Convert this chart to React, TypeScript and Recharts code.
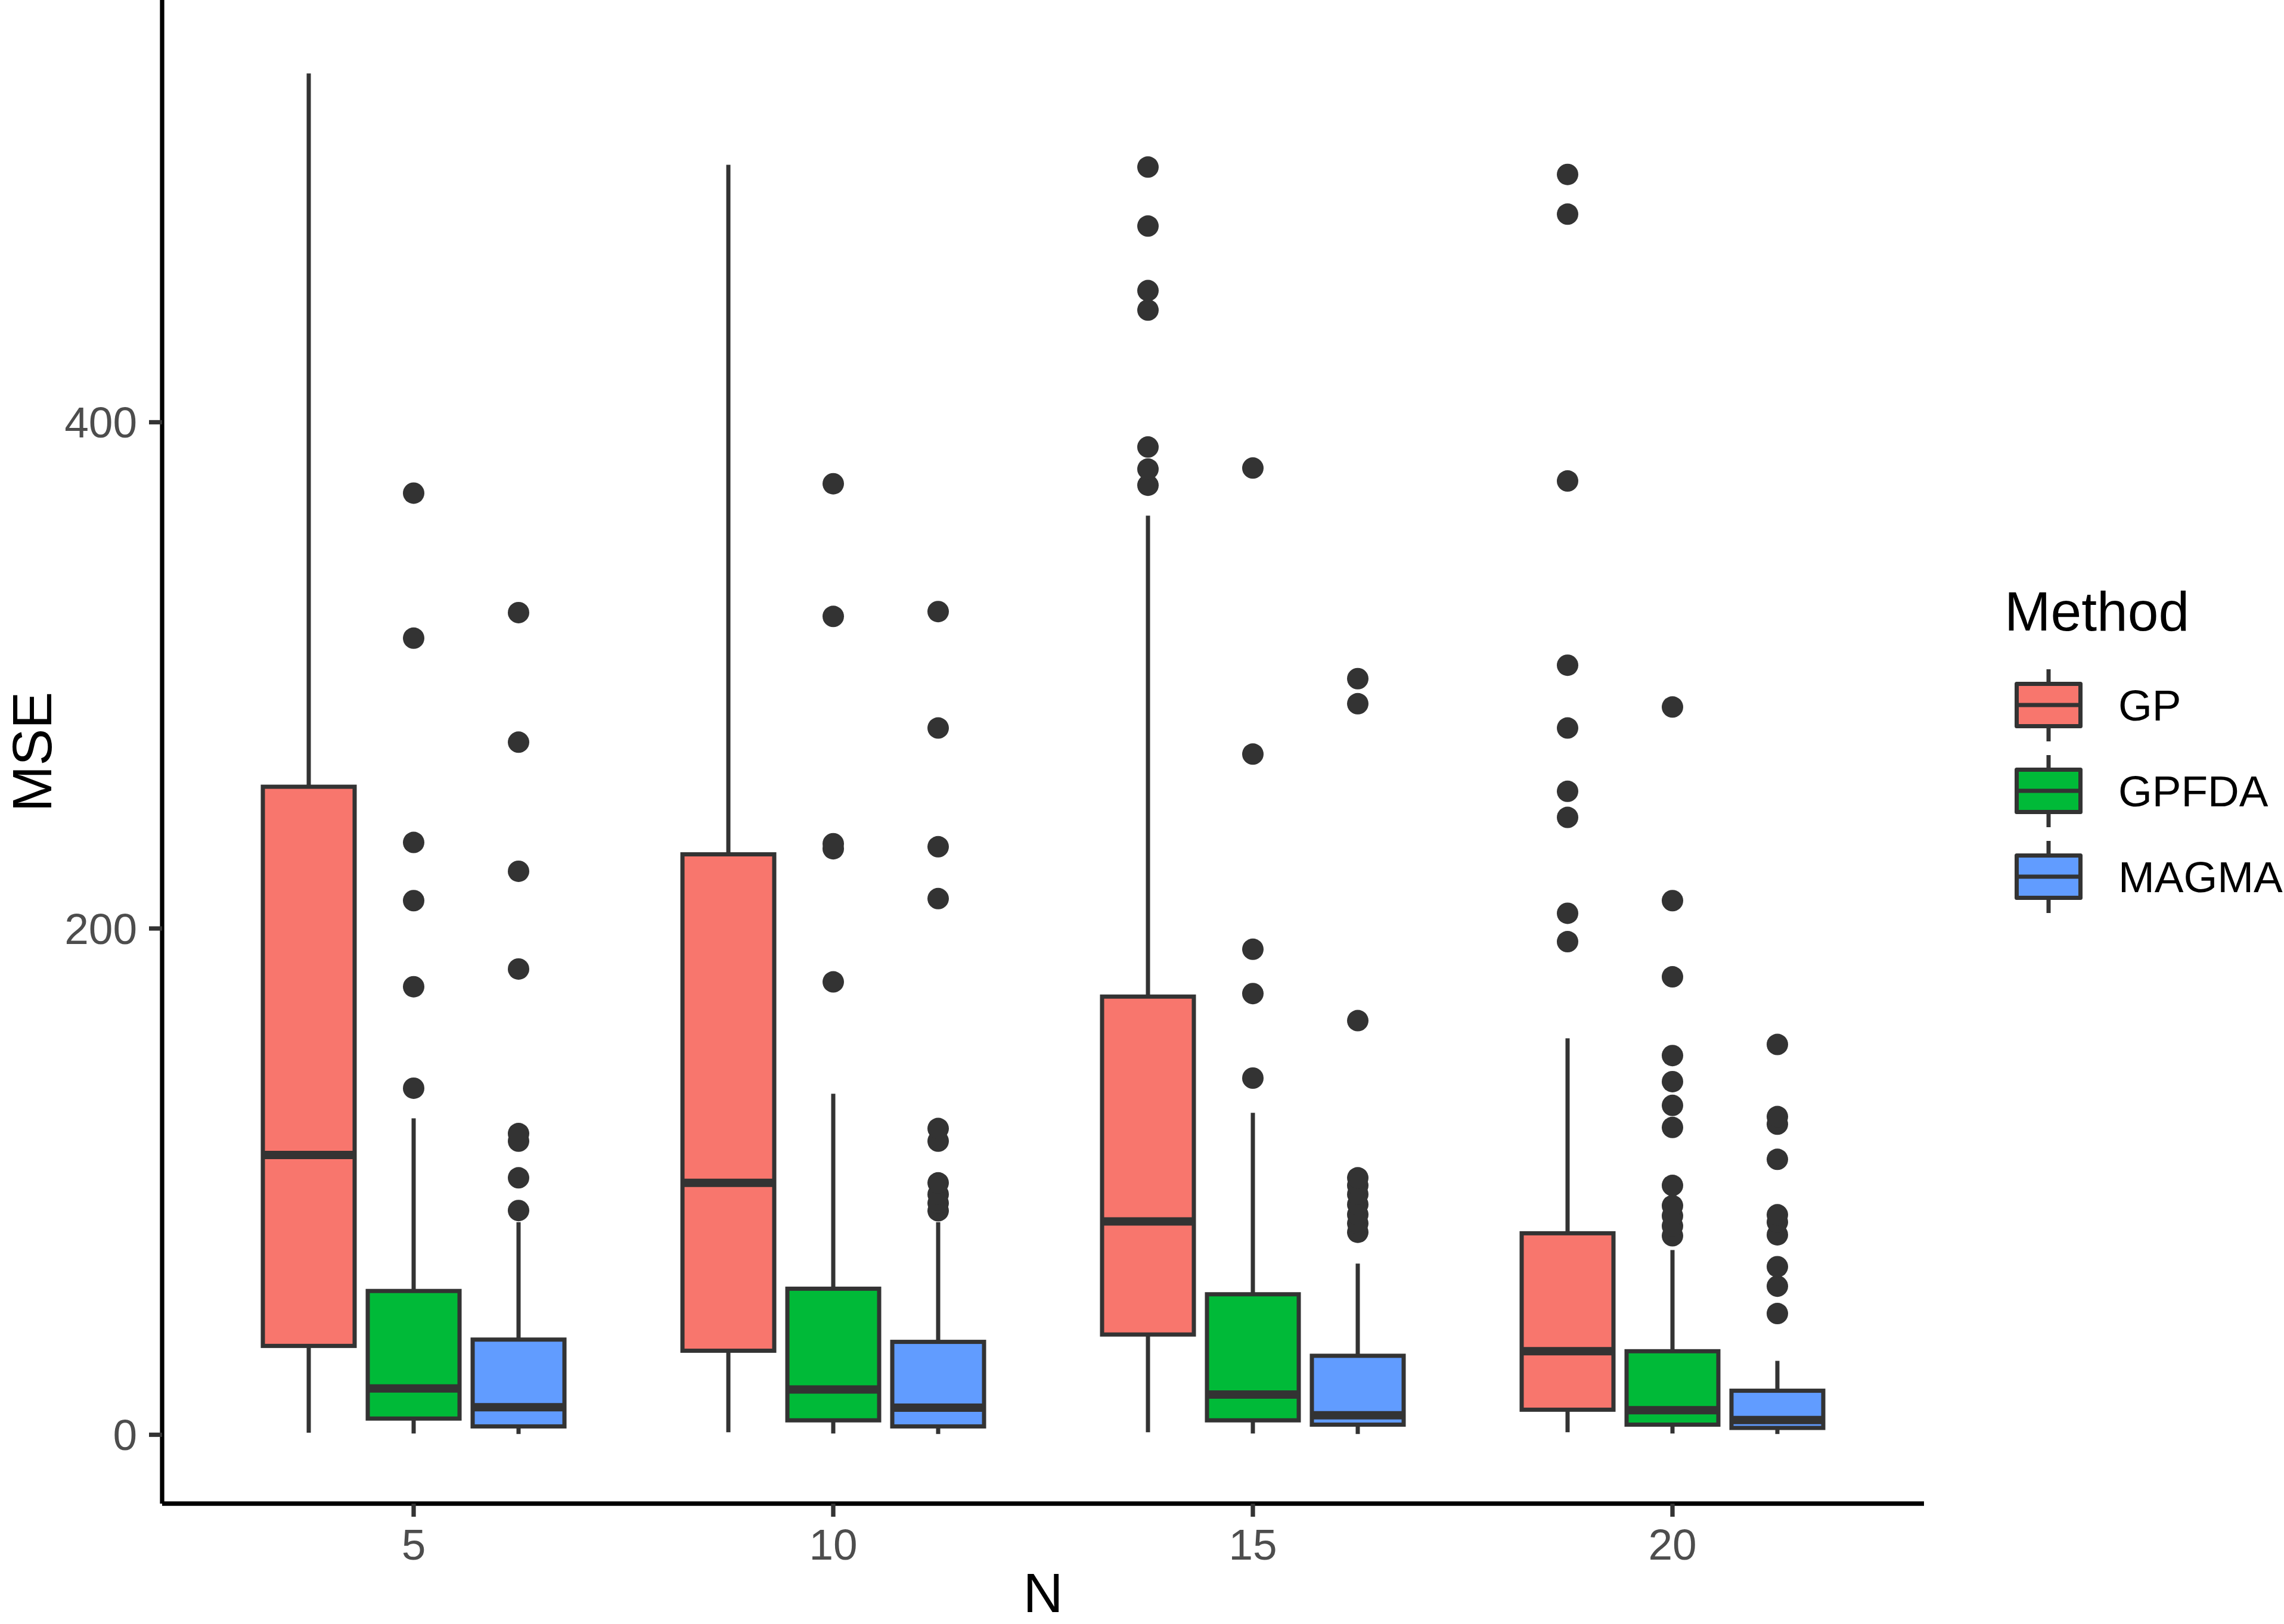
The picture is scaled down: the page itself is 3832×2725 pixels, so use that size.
import React from 'react';
import { ComposedChart, Bar, XAxis, YAxis, Legend } from 'recharts';

// ---------- data ----------
const N_LABELS = ['5', '10', '15', '20'];
const METHOD_NAMES = ['GP', 'GPFDA', 'MAGMA'];
const METHOD_COLORS = ['#F8766D', '#00BA38', '#619CFF'];
const Y_TICKS = [0, 200, 400];

const GP_LOW = [0.8, 1, 1, 1];
const GP_Q1 = [35.1, 33.2, 39.6, 9.9];
const GP_MED = [110.5, 99.5, 84.3, 33];
const GP_Q3 = [256, 229.3, 173.1, 79.6];
const GP_HIGH = [537.8, 501.7, 363.1, 156.6];
const GP_OUT = [
  [],
  [],
  [375.1, 381.5, 390.2, 444.3, 452, 477.5, 500.8],
  [194.8, 206, 243.9, 254.2, 279.2, 304, 376.8, 482.2, 497.9],
];

const GPFDA_LOW = [0.5, 0.5, 0.5, 0.5];
const GPFDA_Q1 = [6.4, 5.7, 5.7, 4];
const GPFDA_MED = [18.3, 17.9, 15.9, 9.7];
const GPFDA_Q3 = [56.8, 57.7, 55.5, 33];
const GPFDA_HIGH = [125, 134.7, 127.2, 73];
const GPFDA_OUT = [
  [136.9, 177, 211, 234, 314.7, 372],
  [178.9, 231.5, 233.5, 323.3, 375.7],
  [140.9, 174.3, 191.8, 268.9, 381.9],
  [78.6, 82.5, 86.5, 90.5, 98.5, 121.4, 130.1, 139.5, 149.8, 180.9, 211, 287.5],
];

const MAGMA_LOW = [0.3, 0.3, 0.3, 0.3];
const MAGMA_Q1 = [3.3, 3.3, 4, 2.7];
const MAGMA_MED = [10.9, 10.7, 7.7, 5.8];
const MAGMA_Q3 = [37.6, 36.7, 31.2, 17.4];
const MAGMA_HIGH = [84, 84, 67.6, 29.2];
const MAGMA_OUT = [
  [88.6, 101.5, 116, 119, 184, 222.6, 273.6, 324.8],
  [88.5, 91.5, 95, 99.5, 116, 121, 211.8, 232.3, 279.2, 325.2],
  [80, 83.5, 87, 91, 95, 98.5, 101.5, 163.6, 288.8, 298.7],
  [47.9, 58.7, 66.4, 79, 84, 86.9, 108.8, 122.7, 125.7, 154.2],
];

type Stats = { low: number; q1: number; med: number; q3: number; high: number; out: number[] };

const stats = (
  low: number[], q1: number[], med: number[], q3: number[], high: number[], out: number[][], i: number,
): Stats => ({ low: low[i], q1: q1[i], med: med[i], q3: q3[i], high: high[i], out: out[i] });

const data = N_LABELS.map((n, i) => ({
  n,
  GP: stats(GP_LOW, GP_Q1, GP_MED, GP_Q3, GP_HIGH, GP_OUT, i),
  GPFDA: stats(GPFDA_LOW, GPFDA_Q1, GPFDA_MED, GPFDA_Q3, GPFDA_HIGH, GPFDA_OUT, i),
  MAGMA: stats(MAGMA_LOW, MAGMA_Q1, MAGMA_MED, MAGMA_Q3, MAGMA_HIGH, MAGMA_OUT, i),
}));

// ---------- style ----------
const FONT = "'Liberation Sans', Arial, Helvetica, sans-serif";
const DARK = '#333333';
const LINE_W = 7;

const makeBoxShape = (key: string, fill: string) => (props: any) => {
  const { x, y, width, height, payload } = props;
  const s: Stats = payload[key];
  const top = Math.min(y, y + height);
  const bot = Math.max(y, y + height);
  const per = (bot - top) / (s.high - s.low);
  const toY = (v: number) => top + (s.high - v) * per;
  const cx = x + width / 2;
  return (
    <g>
      <line x1={cx} x2={cx} y1={toY(s.high)} y2={toY(s.q3)} stroke={DARK} strokeWidth={LINE_W} />
      <line x1={cx} x2={cx} y1={toY(s.q1)} y2={toY(s.low)} stroke={DARK} strokeWidth={LINE_W} />
      <rect
        x={x}
        y={toY(s.q3)}
        width={width}
        height={toY(s.q1) - toY(s.q3)}
        fill={fill}
        stroke={DARK}
        strokeWidth={LINE_W}
      />
      <line x1={x} x2={x + width} y1={toY(s.med)} y2={toY(s.med)} stroke={DARK} strokeWidth={LINE_W * 2} />
      {s.out.map((v, j) => (
        <circle key={j} cx={cx} cy={toY(v)} r={18} fill={DARK} />
      ))}
    </g>
  );
};

const XTitle = (props: any) => {
  const vb = props.viewBox || {};
  return (
    <text
      x={vb.x + vb.width / 2}
      y={vb.y + vb.height - 20}
      textAnchor="middle"
      fontSize={93}
      fontFamily={FONT}
      fill="#000"
    >
      {props.text}
    </text>
  );
};

const YTitle = (props: any) => {
  const vb = props.viewBox || {};
  const cx = vb.x + 86;
  const cy = vb.y + vb.height / 2;
  return (
    <text
      x={cx}
      y={cy}
      transform={`rotate(-90, ${cx}, ${cy})`}
      textAnchor="middle"
      fontSize={93}
      fontFamily={FONT}
      fill="#000"
    >
      {props.text}
    </text>
  );
};

const renderLegend = (props: any) => {
  const payload = props && props.payload && props.payload.length ? props.payload : null;
  const items = payload
    ? payload.map((p: any) => ({ name: p.value, color: p.color }))
    : METHOD_NAMES.map((name, i) => ({ name, color: METHOD_COLORS[i] }));
  return (
    <svg width={470} height={580} style={{ display: 'block', overflow: 'visible' }}>
      <text x={3} y={98} fontSize={93} fontFamily={FONT} fill="#000">
        Method
      </text>
      {items.map((it: any, i: number) => {
        const cy = 223 + i * 144;
        return (
          <g key={it.name}>
            <line x1={77} x2={77} y1={cy - 60} y2={cy + 61} stroke={DARK} strokeWidth={LINE_W} />
            <rect
              x={23.5}
              y={cy - 35.5}
              width={107}
              height={71}
              fill={it.color}
              stroke={DARK}
              strokeWidth={LINE_W}
              strokeLinejoin="round"
            />
            <line x1={23.5} x2={130.5} y1={cy} y2={cy} stroke={DARK} strokeWidth={LINE_W} />
            <text x={194} y={cy} dominantBaseline="central" fontSize={73} fontFamily={FONT} fill="#000">
              {it.name}
            </text>
          </g>
        );
      })}
    </svg>
  );
};

export default function App() {
  return (
    <div
      style={{
        position: 'absolute',
        left: 0,
        top: 0,
        width: 3832,
        height: 2725,
        background: '#ffffff',
        overflow: 'hidden',
      }}
    >
      <ComposedChart
        width={3832}
        height={2725}
        data={data}
        margin={{ top: 0, right: 604, bottom: 0, left: 0 }}
        barSize={154}
        barGap={22}
      >
        <XAxis
          dataKey="n"
          type="category"
          height={202}
          padding={{ left: 70, right: 70 }}
          interval={0}
          axisLine={{ stroke: '#000', strokeWidth: 7.3 }}
          tickLine={{ stroke: DARK, strokeWidth: 7.3 }}
          tickSize={22}
          tickMargin={20}
          tick={{ fontSize: 73, fill: '#4D4D4D', fontFamily: FONT }}
          label={<XTitle text="N" />}
        />
        <YAxis
          type="number"
          width={272}
          domain={[-27.2, 566.8]}
          ticks={Y_TICKS}
          allowDataOverflow
          interval={0}
          axisLine={{ stroke: '#000', strokeWidth: 7.3 }}
          tickLine={{ stroke: DARK, strokeWidth: 7.3 }}
          tickSize={22}
          tickMargin={20}
          tick={{ fontSize: 73, fill: '#4D4D4D', fontFamily: FONT }}
          label={<YTitle text="MSE" />}
        />
        <Legend
          content={renderLegend}
          layout="vertical"
          align="center"
          verticalAlign="middle"
          wrapperStyle={{ position: 'absolute', left: 3360, top: 960, right: 'auto', bottom: 'auto', width: 470 }}
        />
        {METHOD_NAMES.map((name, i) => (
          <Bar
            key={name}
            name={name}
            dataKey={(d: any) => [d[name].low, d[name].high]}
            fill={METHOD_COLORS[i]}
            isAnimationActive={false}
            shape={makeBoxShape(name, METHOD_COLORS[i])}
          />
        ))}
      </ComposedChart>
    </div>
  );
}
